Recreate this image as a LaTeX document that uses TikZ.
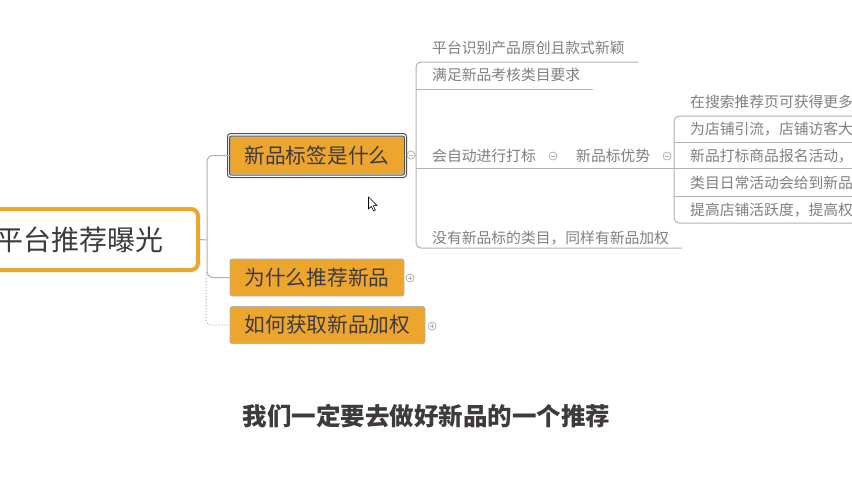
\documentclass[tikz,border=0pt]{standalone}
\usepackage{fontspec}
\setmainfont{Noto Sans CJK SC}
\definecolor{mmorange}{RGB}{236,166,46}
\definecolor{mmline}{RGB}{178,178,178}
\definecolor{mmsub}{RGB}{128,128,128}
\definecolor{mmdark}{RGB}{62,58,62}
\definecolor{mmsel}{RGB}{80,80,80}
\tikzset{
  rootbox/.style={draw=mmorange, line width=4pt, fill=white, rounded corners=7pt, minimum width=220pt, minimum height=61pt, inner sep=0pt},
  roottext/.style={text=mmdark, font=\fontsize{28}{30}\selectfont, inner sep=0pt},
  childbox/.style={fill=mmorange, draw=mmline, line width=0.6pt, rounded corners=2pt, minimum height=37pt, inner sep=0pt, text=mmdark, font=\fontsize{20.7}{22}\selectfont},
  subtext/.style={text=mmsub, font=\fontsize{14.8}{16}\selectfont, inner sep=0pt, anchor=west},
  link/.style={draw=mmline, line width=1pt},
  toggle/.style={circle, draw=mmline, fill=white, line width=0.8pt, minimum size=8pt, inner sep=0pt},
  tgmark/.style={draw=mmline, line width=0.8pt},
  caption/.style={text=mmdark, font=\fontsize{24.5}{26}\selectfont\bfseries, inner sep=0pt}
}
\begin{document}
\begin{tikzpicture}[x=1pt,y=-1pt]
\useasboundingbox (0,0) rectangle (852,480);
\fill[white] (0,0) rectangle (852,480);

% root
\node[rootbox] (root) at (88,239.5) {};
\node[roottext, anchor=east] (rootlbl) at (164,240) {平台推荐曝光};

% children
\node[childbox, minimum width=174pt] (c1) at (317,155.5) {新品标签是什么};
\draw[mmsel, line width=1pt, rounded corners=3pt] (227.5,133.5) rectangle (406.5,177.5);
\draw[mmsel, line width=1pt, rounded corners=2pt] (229.5,136) rectangle (404.5,175);
\node[childbox, minimum width=174pt] (c2) at (317,277.5) {为什么推荐新品};
\node[childbox, minimum width=195pt] (c3) at (327.5,325) {如何获取新品加权};

% root connectors
\coordinate (rj) at (207,240);
\draw[link] (root.east) -- (rj);
\draw[link, rounded corners=6pt] (c1.west) -- (207,155.5) -- (207,277.5) -- (c2.west);
\draw[link, dotted, rounded corners=6pt] (206,272) -- (206,325) -- (c3.west);

% toggles
\node[toggle] (t1) at (411,155) {};
\draw[tgmark] ([xshift=-2pt]t1.center) -- ([xshift=2pt]t1.center);
\node[toggle] (t2) at (410,278) {};
\draw[tgmark] ([xshift=-2pt]t2.center) -- ([xshift=2pt]t2.center);
\draw[tgmark] ([yshift=-2pt]t2.center) -- ([yshift=2pt]t2.center);
\node[toggle] (t3) at (432,326) {};
\draw[tgmark] ([xshift=-2pt]t3.center) -- ([xshift=2pt]t3.center);
\draw[tgmark] ([yshift=-2pt]t3.center) -- ([yshift=2pt]t3.center);

% first-level subtopics of c1
\node[subtext] (s1) at (432,48) {平台识别产品原创且款式新颖};
\node[subtext] (s2) at (432,75) {满足新品考核类目要求};
\node[subtext] (s3) at (432,156) {会自动进行打标};
\node[subtext] (s4) at (576,156) {新品标优势};
\node[subtext] (s5) at (432,238) {没有新品标的类目，同样有新品加权};

\coordinate (u1) at (638,62);
\coordinate (u2) at (593,89);
\coordinate (u5) at (682,248);
\draw[link] (t1.east) -- (416,155);
\draw[link, rounded corners=5pt] (u1) -- (416,62) -- (416,248) -- (u5);
\draw[link] (416,89) -- (u2);
\draw[link] (416,168.5) -- (674,168.5);

\node[toggle] (t4) at (553,156) {};
\draw[tgmark] ([xshift=-2pt]t4.center) -- ([xshift=2pt]t4.center);
\node[toggle] (t5) at (667,156) {};
\draw[tgmark] ([xshift=-2pt]t5.center) -- ([xshift=2pt]t5.center);

% second-level subtopics
\draw[link, rounded corners=5pt] (860,116) -- (674,116) -- (674,223) -- (860,223);
\draw[link] (674,142.5) -- (860,142.5);
\draw[link] (674,196) -- (860,196);
\draw[link] (674,168.5) -- (860,168.5);
\node[subtext] (v1) at (690,102) {在搜索推荐页可获得更多};
\node[subtext] (v2) at (690,129) {为店铺引流，店铺访客大};
\node[subtext] (v3) at (690,156) {新品打标商品报名活动，};
\node[subtext] (v4) at (690,183) {类目日常活动会给到新品};
\node[subtext] (v5) at (690,210) {提高店铺活跃度，提高权};

% mouse cursor
\draw[black, line width=0.6pt, fill=white, line join=round]
  (368.5,197) -- (368.5,209) -- (371.3,206.4) -- (373.6,211) -- (375.4,210.2) -- (373.2,205.6) -- (377,205.6) -- cycle;

% caption
\node[caption] (cap) at (426.5,416) {我们一定要去做好新品的一个推荐};
\end{tikzpicture}
\end{document}
